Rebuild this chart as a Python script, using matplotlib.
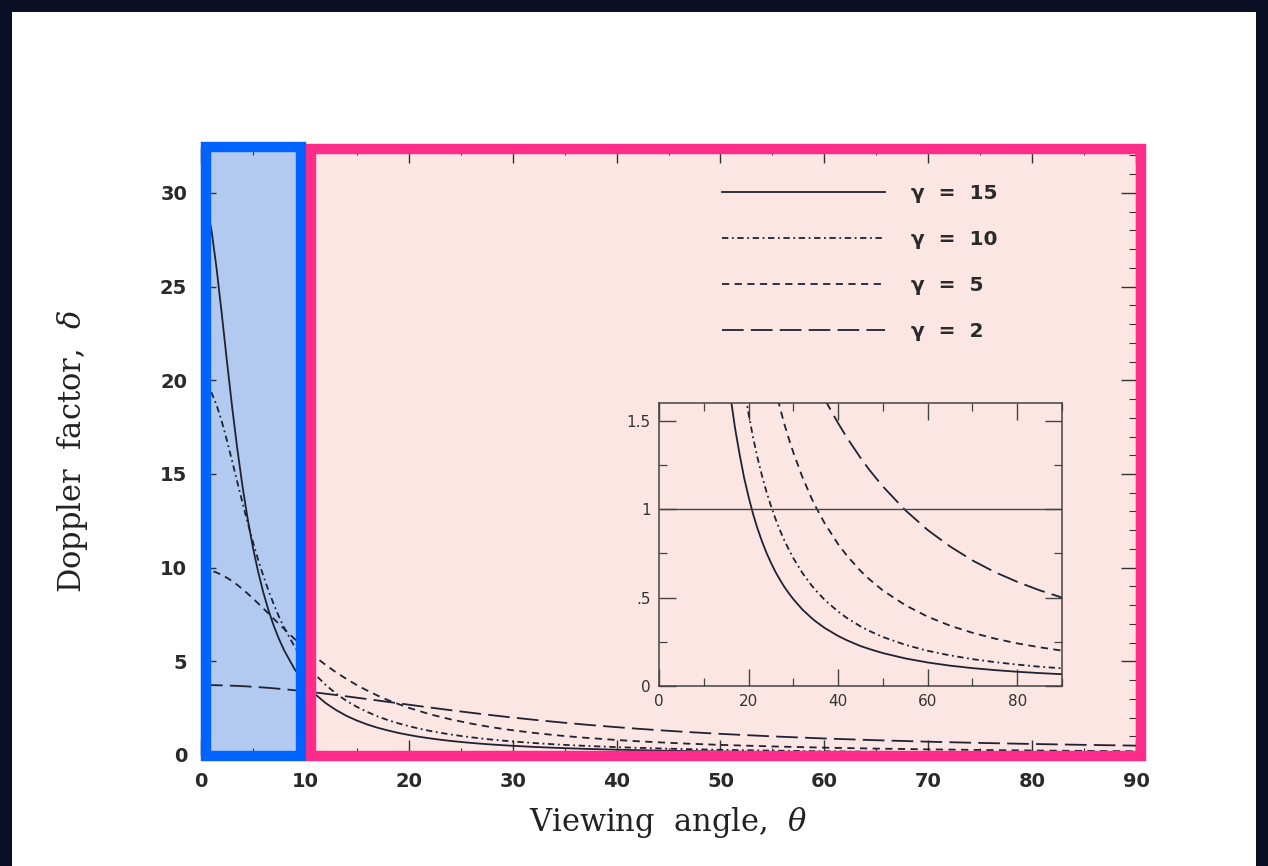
import numpy as np
import matplotlib
matplotlib.use("Agg")
import matplotlib.pyplot as plt
from matplotlib.patches import Rectangle
from matplotlib.ticker import MultipleLocator

plt.rcParams["mathtext.fontset"] = "dejavuserif"

# viewing angle in degrees and Doppler factor for each Lorentz factor
theta = [0, 0.5, 1, 1.5, 2, 2.5, 3, 3.5, 4, 4.5,
         5, 5.5, 6, 6.5, 7, 7.5, 8, 9, 10, 11,
         12, 13, 14, 15, 16, 17, 18, 19, 20, 21,
         22, 23, 24, 25, 26, 27, 28, 29, 30, 32,
         34, 35, 37, 40, 42, 45, 47, 50, 55, 60,
         65, 70, 75, 80, 85, 90]
delta_15 = [29.97, 29.46, 28.05, 25.97, 23.54, 21.00, 18.56, 16.32, 14.32, 12.58,
            11.07, 9.78, 8.67, 7.72, 6.90, 6.20, 5.59, 4.59, 3.84, 3.24,
            2.77, 2.40, 2.09, 1.84, 1.63, 1.455, 1.31, 1.178, 1.07, 0.973,
            0.89, 0.818, 0.753, 0.697, 0.646, 0.601, 0.560, 0.524, 0.491, 0.433,
            0.386, 0.365, 0.328, 0.283, 0.258, 0.226, 0.209, 0.186, 0.156, 0.133,
            0.115, 0.101, 0.0899, 0.0806, 0.0730, 0.0667]
delta_10 = [19.95, 19.80, 19.36, 18.68, 17.80, 16.78, 15.68, 14.56, 13.45, 12.38,
            11.37, 10.42, 9.56, 8.77, 8.05, 7.39, 6.80, 5.79, 4.97, 4.29,
            3.74, 3.28, 2.89, 2.57, 2.30, 2.06, 1.86, 1.689, 1.54, 1.406,
            1.29, 1.189, 1.098, 1.018, 0.946, 0.881, 0.823, 0.771, 0.723, 0.640,
            0.571, 0.541, 0.487, 0.421, 0.384, 0.337, 0.311, 0.277, 0.233, 0.199,
            0.173, 0.152, 0.135, 0.121, 0.109, 0.100]
delta_5 = [9.90, 9.88, 9.83, 9.74, 9.61, 9.46, 9.28, 9.08, 8.85, 8.61,
           8.36, 8.09, 7.82, 7.55, 7.27, 7.00, 6.73, 6.20, 5.70, 5.23,
           4.81, 4.41, 4.06, 3.73, 3.44, 3.17, 2.93, 2.72, 2.52, 2.35,
           2.18, 2.04, 1.906, 1.79, 1.676, 1.575, 1.48, 1.398, 1.32, 1.183,
           1.065, 1.013, 0.920, 0.802, 0.736, 0.651, 0.603, 0.540, 0.457, 0.392,
           0.341, 0.301, 0.268, 0.241, 0.219, 0.200]
delta_2 = [3.732, 3.731, 3.728, 3.724, 3.717, 3.709, 3.699, 3.688, 3.674, 3.659,
           3.642, 3.624, 3.604, 3.583, 3.560, 3.536, 3.511, 3.457, 3.398, 3.336,
           3.270, 3.202, 3.131, 3.058, 2.985, 2.910, 2.835, 2.760, 2.685, 2.611,
           2.538, 2.465, 2.394, 2.324, 2.256, 2.189, 2.125, 2.061, 2.000, 1.883,
           1.773, 1.721, 1.621, 1.486, 1.403, 1.290, 1.221, 1.128, 0.994, 0.882,
           0.789, 0.710, 0.644, 0.589, 0.541, 0.500]

labels = ["γ  =  15", "γ  =  10", "γ  =  5", "γ  =  2"]
styles = ["-", (0, (3.5, 2, 1, 2)), (0, (4, 3)), (0, (12, 4))]
series = [delta_15, delta_10, delta_5, delta_2]

ink = "#1e2232"

fig = plt.figure(figsize=(12.68, 8.66), dpi=100, facecolor="#0b1027")
# white slide panel
fig.patches.append(Rectangle((12 / 1268, 0), 1244 / 1268, 854 / 866,
                             transform=fig.transFigure, facecolor="white",
                             edgecolor="none", zorder=-10))

ax = fig.add_axes([201 / 1268, 111 / 866, 935 / 1268, 607 / 866])
ax.set_facecolor("none")
ax.set_xlim(0, 90)
ax.set_ylim(0, 32.4)

# highlighted regions
ax.add_patch(Rectangle((0.5, -0.05), 9.1, 32.5, facecolor="#b3caf0",
                       edgecolor="none", zorder=0, clip_on=False))
ax.add_patch(Rectangle((10.6, -0.05), 79.9, 32.4, facecolor="#fbe6e3",
                       edgecolor="none", zorder=0, clip_on=False))

for y, ls, lab in zip(series, styles, labels):
    ax.plot(theta, y, color=ink, lw=1.3, linestyle=ls, label=lab, zorder=3)

ax.xaxis.set_major_locator(MultipleLocator(10))
ax.xaxis.set_minor_locator(MultipleLocator(5))
ax.yaxis.set_major_locator(MultipleLocator(5))
ax.yaxis.set_minor_locator(MultipleLocator(1))
ax.tick_params(which="both", direction="in", top=True, right=True, color="#333333")
ax.tick_params(which="major", length=11, width=1.0)
ax.tick_params(which="minor", length=5, width=0.8)
ax.tick_params(axis="x", pad=12)
ax.tick_params(axis="y", pad=10)
for t in ax.get_xticklabels() + ax.get_yticklabels():
    t.set_fontsize(14)
    t.set_fontweight("bold")
    t.set_color("#2a2a2a")
for s in ax.spines.values():
    s.set_color("#333333")

ax.set_xlabel(r"Viewing  angle,  $\theta$", fontsize=22, family="DejaVu Serif",
              color="#222222", labelpad=10)
ax.set_ylabel(r"Doppler  factor,  $\delta$", fontsize=22, family="DejaVu Serif",
              color="#222222", labelpad=50)

leg = ax.legend(loc="upper left", bbox_to_anchor=(0.557, 0.940), frameon=False,
                handlelength=8.1, handletextpad=1.3, labelspacing=1.33,
                borderpad=0, borderaxespad=0,
                prop={"size": 14.5, "weight": "bold"})
for t in leg.get_texts():
    t.set_color("#2a2a2a")

# region outlines
ax.add_patch(Rectangle((0.5, -0.05), 9.1, 32.5, facecolor="none",
                       edgecolor="#0062ff", lw=7.5, zorder=5, clip_on=False))
ax.add_patch(Rectangle((10.6, -0.05), 79.9, 32.4, facecolor="none",
                       edgecolor="#ff2b8a", lw=7.5, zorder=5, clip_on=False))

# inset zoom on small Doppler factors
ins = fig.add_axes([659 / 1268, 180 / 866, 403 / 1268, 283 / 866])
ins.set_facecolor("none")
for y, ls in zip(series, styles):
    ins.plot(theta, y, color=ink, lw=1.3, linestyle=ls)
ins.axhline(1, color="#444444", lw=1.0)
ins.set_xlim(0, 90)
ins.set_ylim(0, 1.6)
ins.set_xticks([0, 20, 40, 60, 80])
ins.set_yticks([0, 0.5, 1, 1.5], ["0", ".5", "1", "1.5"])
ins.xaxis.set_minor_locator(MultipleLocator(10))
ins.yaxis.set_minor_locator(MultipleLocator(0.25))
ins.tick_params(which="both", direction="in", top=True, right=True,
                color="#444444", labelsize=11, labelcolor="#333333")
ins.tick_params(which="major", length=12, width=1.0, pad=6)
ins.tick_params(which="minor", length=6, width=0.9)
for s in ins.spines.values():
    s.set_color("#444444")
    s.set_linewidth(1.1)

fig.savefig("out.png", dpi=100, facecolor=fig.get_facecolor())
